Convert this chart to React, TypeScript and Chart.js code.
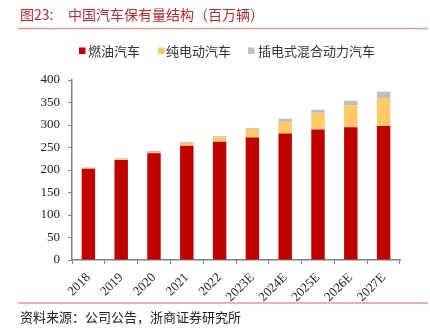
import React, { useEffect, useRef } from 'react';
import { Chart, registerables } from 'chart.js';

Chart.register(...registerables);

const categories = ['2018', '2019', '2020', '2021', '2022', '2023E', '2024E', '2025E', '2026E', '2027E'];
const iceValues = [203, 222, 237, 254, 263, 272, 281, 290, 295, 298];
const bevValues = [2, 2, 3, 6, 9, 19, 26, 37, 49, 62];
const phevValues = [1, 2, 2, 2, 3, 2, 7, 7, 10, 14];
const seriesNames = ['燃油汽车', '纯电动汽车', '插电式混合动力汽车'];
const seriesColors = ['#C00000', '#FFC966', '#BFBFBF'];
const titlePrefix = '图23:';
const titleText = '中国汽车保有量结构（百万辆）';
const sourceText = '资料来源：公司公告，浙商证券研究所';

const CJK = '"Noto Sans CJK SC", "Noto Sans", sans-serif';
const SERIF = '"Liberation Serif", "DejaVu Serif", serif';

const decorPlugin = {
  id: 'decor',
  afterDraw(chart: any) {
    const ctx = chart.ctx as CanvasRenderingContext2D;
    ctx.save();
    ctx.textBaseline = 'middle';
    ctx.textAlign = 'left';
    // title
    ctx.fillStyle = '#C0282D';
    ctx.font = `14px ${CJK}`;
    ctx.fillText(titlePrefix, 20, 15);
    ctx.fillText(titleText, 68, 15);
    // lines
    ctx.strokeStyle = '#E39A9A';
    ctx.lineWidth = 1.5;
    ctx.beginPath();
    ctx.moveTo(18, 28.5);
    ctx.lineTo(428, 28.5);
    ctx.moveTo(18, 303);
    ctx.lineTo(428, 303);
    ctx.stroke();
    // legend
    const boxX = [79, 158, 248];
    const textX = [88, 166, 258];
    ctx.font = `13px ${CJK}`;
    chart.data.datasets.forEach((ds: any, i: number) => {
      ctx.fillStyle = ds.backgroundColor;
      ctx.fillRect(boxX[i], 47.5, 6.5, 6.5);
      ctx.fillStyle = '#333333';
      ctx.fillText(ds.label, textX[i], 51);
    });
    // source
    ctx.fillStyle = '#222222';
    ctx.font = `13px ${CJK}`;
    ctx.fillText(sourceText, 20, 317);
    ctx.restore();
  },
};

export default function App() {
  const ref = useRef<HTMLCanvasElement>(null);
  useEffect(() => {
    if (!ref.current) return;
    const chart = new Chart(ref.current, {
      type: 'bar',
      data: {
        labels: categories,
        datasets: [
          { label: seriesNames[0], data: iceValues, backgroundColor: seriesColors[0] },
          { label: seriesNames[1], data: bevValues, backgroundColor: seriesColors[1] },
          { label: seriesNames[2], data: phevValues, backgroundColor: seriesColors[2] },
        ],
      },
      options: {
        responsive: false,
        animation: false,
        devicePixelRatio: 1,
        layout: { padding: { left: 0, right: 30, top: 80, bottom: 0 } },
        datasets: { bar: { categoryPercentage: 1, barPercentage: 0.41 } },
        plugins: {
          legend: { display: false },
          title: { display: false },
          tooltip: { enabled: false },
        },
        scales: {
          x: {
            stacked: true,
            grid: { display: true, drawOnChartArea: false, drawTicks: true, tickLength: 4, color: '#808080', offset: true },
            border: { display: true, color: '#808080', width: 1.5 },
            ticks: {
              minRotation: 45,
              maxRotation: 45,
              autoSkip: false,
              padding: 6,
              color: '#222222',
              font: { family: SERIF, size: 13 },
            },
            afterFit(scale: any) { scale.height = 68; },
          },
          y: {
            stacked: true,
            min: 0,
            max: 400,
            grid: { display: true, drawOnChartArea: false, drawTicks: true, tickLength: 4, color: '#808080' },
            border: { display: true, color: '#808080', width: 1.5 },
            ticks: {
              stepSize: 50,
              padding: 8,
              color: '#222222',
              font: { family: SERIF, size: 13 },
            },
            afterFit(scale: any) { scale.width = 72; },
          },
        },
      },
      plugins: [decorPlugin],
    });
    return () => chart.destroy();
  }, []);
  return (
    <div style={{ position: 'fixed', left: 0, top: 0, width: 430, height: 328, background: '#fff' }}>
      <canvas ref={ref} width={430} height={328} style={{ width: 430, height: 328, display: 'block' }} />
    </div>
  );
}
